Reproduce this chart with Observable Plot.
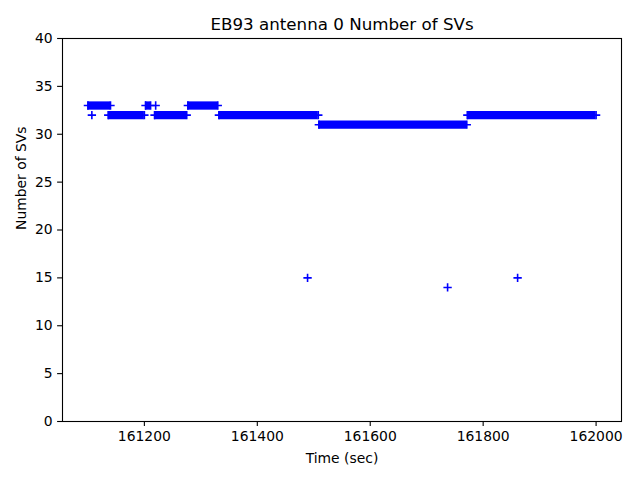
<!DOCTYPE html>
<html><head><meta charset="utf-8">
<script src="https://cdn.jsdelivr.net/npm/d3@7"></script>
<script src="https://cdn.jsdelivr.net/npm/@observablehq/plot@0.6"></script>
<style>body{margin:0;background:#fff}</style>
</head><body><div id="chart"></div>
<script>
// Runs of constant SV count (one sample per second, drawn as dense "+" markers)
const segStart = [161100, 161136, 161202, 161218, 161277, 161332, 161509, 161772];
const segEnd   = [161140, 161200, 161211, 161275, 161330, 161508, 161771, 162000];
const segValue = [33, 32, 33, 32, 33, 32, 31, 32];
// Isolated samples
const pointTime  = [161107, 161220, 161489, 161737, 161861];
const pointValue = [32, 33, 15, 14, 15];
const xTicks = [161200, 161400, 161600, 161800, 162000];
const yTicks = [0, 5, 10, 15, 20, 25, 30, 35, 40];
const titleText = "EB93 antenna 0 Number of SVs";
const xLabel = "Time (sec)";
const yLabel = "Number of SVs";

const segs = segStart.map((s, i) => ({start: s, end: segEnd[i], value: segValue[i]}));
const ends = segs.flatMap(d => [{t: d.start, v: d.value}, {t: d.end, v: d.value}]);
const points = pointTime.map((t, i) => ({t, v: pointValue[i]}));

const plusSymbol = {
  draw(ctx, size) {
    const r = Math.sqrt(size / Math.PI);
    ctx.moveTo(-r, 0); ctx.lineTo(r, 0);
    ctx.moveTo(0, -r); ctx.lineTo(0, r);
  }
};
const blue = "#0000ff";
const font = "DejaVu Sans";

const chart = Plot.plot({
  width: 640,
  height: 480,
  marginLeft: 62,
  marginRight: 19,
  marginTop: 38,
  marginBottom: 59,
  style: {fontFamily: font, fontSize: "13.9px", color: "black", background: "white"},
  x: {domain: [161055, 162045], ticks: xTicks, tickFormat: d => String(d)},
  y: {domain: [0, 40], ticks: yTicks},
  marks: [
    Plot.ruleY(segs, {x1: "start", x2: "end", y: "value", stroke: blue, strokeWidth: 8.3}),
    Plot.dot(ends, {x: "t", y: "v", symbol: plusSymbol, r: 4.17, fill: "none", stroke: blue, strokeWidth: 1.6}),
    Plot.dot(points, {x: "t", y: "v", symbol: plusSymbol, r: 4.17, fill: "none", stroke: blue, strokeWidth: 1.6}),
    Plot.frame({stroke: "black", strokeWidth: 1.1}),
    Plot.axisX({ticks: xTicks, tickFormat: d => String(d), tickSize: 4.9, tickPadding: 4.9, label: null, fontSize: 13.9, stroke: "black", strokeWidth: 1.1}),
    Plot.axisY({ticks: yTicks, tickSize: 4.9, tickPadding: 4.9, label: null, fontSize: 13.9, stroke: "black", strokeWidth: 1.1}),
    Plot.text([titleText], {text: d => d, frameAnchor: "top", dy: -9, lineAnchor: "bottom", fontSize: 16.7, fill: "black"}),
    Plot.text([xLabel], {text: d => d, frameAnchor: "bottom", dy: 37, lineAnchor: "middle", fontSize: 13.9, fill: "black"}),
    Plot.text([yLabel], {text: d => d, frameAnchor: "left", dx: -41, rotate: -90, lineAnchor: "middle", fontSize: 13.9, fill: "black"})
  ]
});
document.getElementById("chart").appendChild(chart);
</script>
</body></html>
